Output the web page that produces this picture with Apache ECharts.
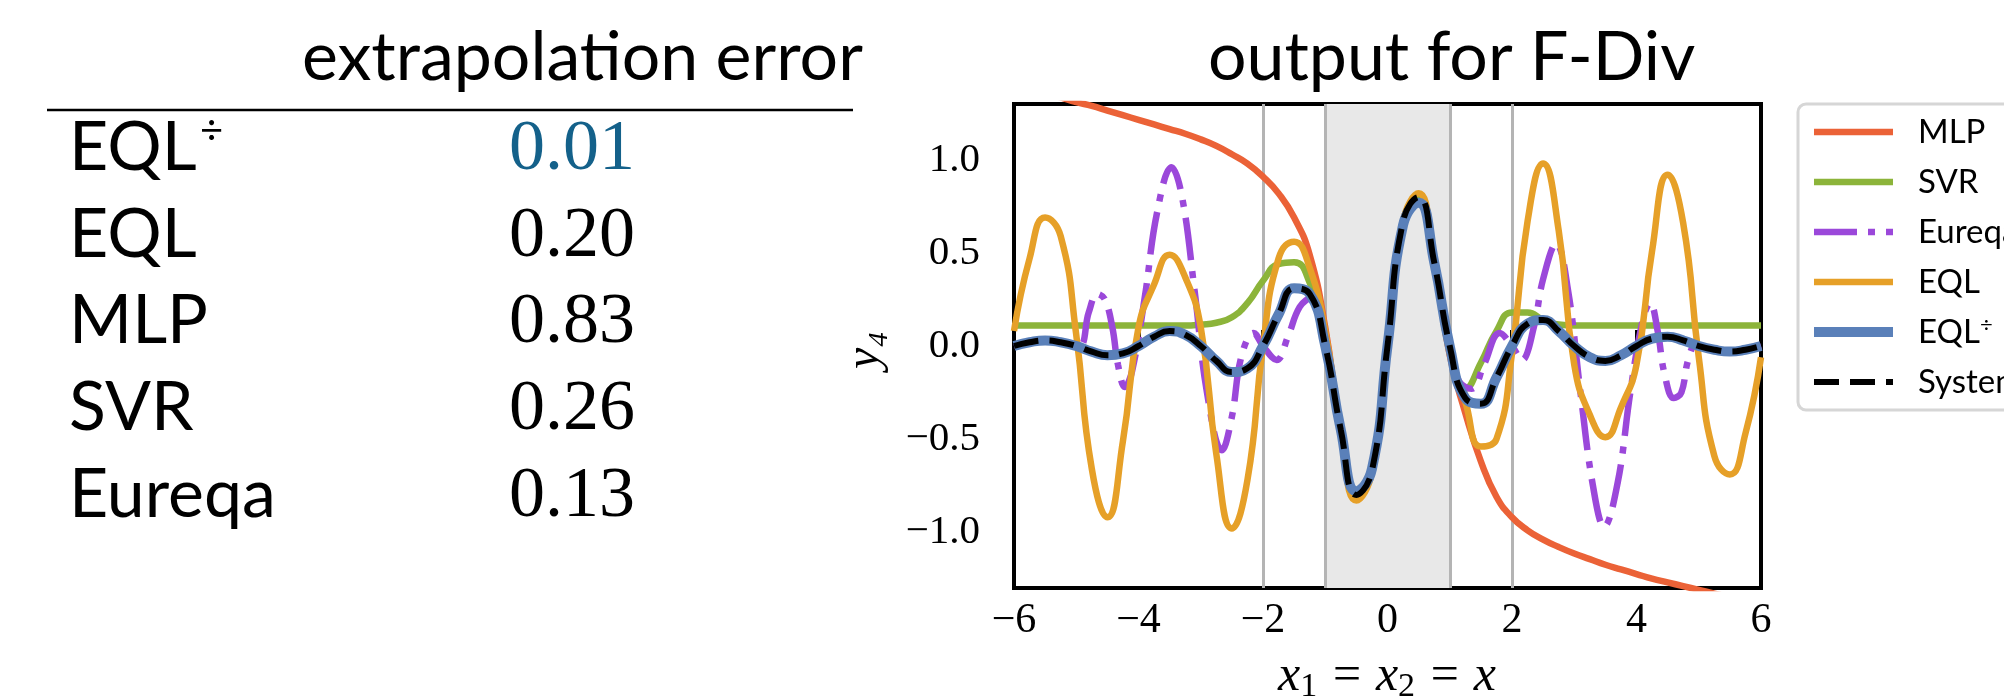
<!DOCTYPE html>
<html>
<head>
<meta charset="utf-8">
<title>output for F-Div</title>
<script src="https://cdn.jsdelivr.net/npm/echarts@6.0.0/dist/echarts.min.js"></script>
<style>
  html, body { margin: 0; padding: 0; background: #fff; }
  #main { width: 2004px; height: 696px; }
</style>
</head>
<body>
<div id="main"></div>
<script>
// left table
var tableMethods = ['EQL', 'EQL', 'MLP', 'SVR', 'Eureqa'];   // first row is EQL with the ÷ mark
var tableErrors = ['0.01', '0.20', '0.83', '0.26', '0.13'];

// curves at x step 0.25
var xs = [-6, -5.75, -5.5, -5.25, -5, -4.75, -4.5, -4.25, -4, -3.75, -3.5, -3.25,
  -3, -2.75, -2.5, -2.25, -2, -1.75, -1.5, -1.25, -1, -0.75, -0.5, -0.25,
  0, 0.25, 0.5, 0.75, 1, 1.25, 1.5, 1.75, 2, 2.25, 2.5, 2.75,
  3, 3.25, 3.5, 3.75, 4, 4.25, 4.5, 4.75, 5, 5.25, 5.5, 5.75, 6];

var mlpY = [1.40, 1.38, 1.36, 1.335, 1.31, 1.29, 1.265, 1.24, 1.215, 1.19, 1.165, 1.14,
  1.11, 1.075, 1.03, 0.98, 0.91, 0.82, 0.69, 0.49, 0.10, -0.45, -0.80, -0.67,
  0, 0.67, 0.80, 0.45, -0.05, -0.36, -0.62, -0.81, -0.92, -0.99, -1.04, -1.08,
  -1.115, -1.145, -1.175, -1.2, -1.225, -1.25, -1.27, -1.29, -1.31, -1.33, -1.35, -1.37, -1.39];

var svrY = [0.11, 0.11, 0.11, 0.11, 0.11, 0.11, 0.11, 0.11, 0.11, 0.11, 0.11, 0.11,
  0.115, 0.125, 0.155, 0.23, 0.35, 0.44, 0.45, 0.34, 0.06, -0.45, -0.80, -0.67,
  0, 0.67, 0.80, 0.45, -0.03, -0.23, -0.09, 0.08, 0.18, 0.18, 0.14, 0.115,
  0.11, 0.11, 0.11, 0.11, 0.11, 0.11, 0.11, 0.11, 0.11, 0.11, 0.11, 0.11, 0.11];

var eqlY = [0.08, 0.47, 0.69, 0.59, 0.06, -0.66, -0.92, -0.51, 0.10, 0.33, 0.49, 0.37,
  0.10, -0.58, -0.98, -0.72, 0.0, 0.47, 0.56, 0.42, 0.08, -0.46, -0.83, -0.68,
  0, 0.67, 0.82, 0.46, -0.04, -0.30, -0.54, -0.50, -0.04, 0.67, 0.98, 0.62,
  -0.10, -0.37, -0.49, -0.33, -0.10, 0.51, 0.92, 0.66, -0.06, -0.59, -0.69, -0.47, -0.06];

var eqlDivY = [0, 0.02, 0.03, 0.02, 0, -0.03, -0.05, -0.04, 0, 0.05, 0.08, 0.06,
  0, -0.08, -0.14, -0.12, 0, 0.17, 0.31, 0.28, 0, -0.45, -0.78, -0.66,
  0, 0.65, 0.77, 0.45, 0, -0.28, -0.31, -0.17, 0, 0.12, 0.14, 0.08,
  0, -0.06, -0.08, -0.05, 0, 0.04, 0.05, 0.03, 0, -0.02, -0.03, -0.02, 0];

var systemY = [0, 0.02, 0.03, 0.02, 0, -0.03, -0.05, -0.04, 0, 0.05, 0.08, 0.06,
  0, -0.08, -0.14, -0.12, 0, 0.17, 0.31, 0.28, 0, -0.45, -0.80, -0.67,
  0, 0.67, 0.80, 0.45, 0, -0.28, -0.31, -0.17, 0, 0.12, 0.14, 0.08,
  0, -0.06, -0.08, -0.05, 0, 0.04, 0.05, 0.03, 0, -0.02, -0.03, -0.02, 0];

// Eureqa has sharper wiggles, so it gets its own x positions
var eureqaX = [-6, -5.5, -5.25, -4.95, -4.8, -4.66, -4.54, -4.42, -4.33, -4.22, -4.1, -3.9,
  -3.7, -3.47, -3.3, -3.1, -2.9, -2.66, -2.5, -2.35, -2.15, -2.0, -1.78, -1.6,
  -1.41, -1.22, -1.0, -0.75, -0.5, -0.25, 0, 0.25, 0.5, 0.75, 1.0, 1.15,
  1.35, 1.55, 1.8, 2.0, 2.16, 2.35, 2.5, 2.71, 2.9, 3.1, 3.3, 3.48,
  3.7, 3.9, 4.1, 4.22, 4.34, 4.45, 4.6, 4.72, 4.83, 4.95, 5.25, 5.5, 6];
var eureqaY = [0, 0.03, 0.02, 0.0, 0.18, 0.28, 0.25, 0.1, -0.1, -0.22, -0.13, 0.26,
  0.72, 0.96, 0.8, 0.3, -0.25, -0.56, -0.38, -0.06, 0.07, 0.0, -0.075, 0.05,
  0.21, 0.26, 0.02, -0.45, -0.8, -0.67, 0, 0.67, 0.8, 0.45, -0.02, -0.19,
  -0.23, -0.1, 0.07, 0.0, -0.075, 0.1, 0.36, 0.55, 0.3, -0.25, -0.75, -0.97,
  -0.73, -0.25, 0.14, 0.23, 0.08, -0.15, -0.28, -0.25, -0.075, 0.0, -0.02, -0.03, 0];

var yTicks = [-1, -0.5, 0, 0.5, 1];
var shadeRange = [-1, 1];
var greyLines = [-2, -1, 1, 2];

function pairs(x, y) {
  return x.map(function (v, i) { return [v, y[i]]; });
}
function minus(s) { return s.replace('-', '\u2212'); }

var sans = 'Lato, "DejaVu Sans", sans-serif';
var serif = '"Liberation Serif", "DejaVu Serif", serif';

var chart = echarts.init(document.getElementById('main'), null, { renderer: 'canvas' });

var graphics = [
  { type: 'text', x: 302, y: 58, style: { text: 'extrapolation error', fontFamily: sans, fontSize: 68, fill: '#000', align: 'left', verticalAlign: 'middle' } },
  { type: 'text', x: 1208, y: 58, style: { text: 'output for F-Div', fontFamily: sans, fontSize: 68, fill: '#000', align: 'left', verticalAlign: 'middle' } },
  { type: 'line', shape: { x1: 47, y1: 110, x2: 853, y2: 110 }, style: { stroke: '#000', lineWidth: 2.5 } },
  { type: 'text', x: 200, y: 131, style: { text: '\u00f7', fontFamily: sans, fontSize: 40, fill: '#000', align: 'left', verticalAlign: 'middle' } },
  { type: 'text', x: 865, y: 350, rotation: Math.PI / 2,
    style: { text: 'y\u2084', fontFamily: serif, fontStyle: 'italic', fontSize: 48, fill: '#000', align: 'center', verticalAlign: 'middle' } },
  { type: 'text', x: 1387, y: 677,
    style: { text: '{i|x}{s|1}{i| = x}{s|2}{i| = x}', fill: '#000', align: 'center', verticalAlign: 'middle',
      rich: {
        i: { fontFamily: serif, fontStyle: 'italic', fontSize: 50, lineHeight: 54 },
        s: { fontFamily: serif, fontSize: 34, lineHeight: 32, verticalAlign: 'bottom' }
      } } }
];
tableMethods.forEach(function (m, i) {
  var base = 174 + i * 86.7;
  graphics.push({ type: 'text', x: 69, y: base - 26, style: { text: m, fontFamily: sans, fontSize: 68, fill: '#000', align: 'left', verticalAlign: 'middle' } });
  graphics.push({ type: 'text', x: 572, y: base - 24, style: { text: tableErrors[i], fontFamily: serif, fontSize: 72, fill: i === 0 ? '#14618a' : '#000', align: 'center', verticalAlign: 'middle' } });
});

var option = {
  animation: false,
  backgroundColor: '#fff',
  grid: {
    left: 1014, top: 104, right: 243, bottom: 108,
    show: true, borderColor: '#000', borderWidth: 4, backgroundColor: 'transparent',
    containLabel: false, outerBoundsMode: 'none'
  },
  xAxis: {
    type: 'value', min: -6, max: 6, interval: 2,
    axisLine: { show: false },
    axisTick: { inside: true, length: 16, lineStyle: { color: '#000', width: 4 } },
    axisLabel: { margin: 12, color: '#000', fontFamily: serif, fontSize: 42,
      formatter: function (v) { return minus(String(v)); } },
    splitLine: { show: false }
  },
  yAxis: {
    type: 'value', min: -1.3, max: 1.3,
    axisLine: { show: false },
    axisTick: { inside: true, length: 16, customValues: yTicks, lineStyle: { color: '#000', width: 4 } },
    axisLabel: { margin: 34, color: '#000', fontFamily: serif, fontSize: 41, customValues: yTicks,
      formatter: function (v) { return minus(v.toFixed(1)); } },
    splitLine: { show: false }
  },
  legend: {
    data: ['MLP', 'SVR', 'Eureqa', 'EQL', 'EQL\u00f7', 'System'],
    orient: 'vertical', left: 1798, top: 104,
    padding: [10, 60, 10, 11],
    itemWidth: 79, itemHeight: 2, itemGap: 14,
    backgroundColor: '#fff', borderColor: '#d6d6d6', borderWidth: 3, borderRadius: 8,
    itemStyle: { opacity: 0 },
    lineStyle: { width: 'inherit' },
    formatter: function (name) { return name === 'EQL\u00f7' ? 'EQL{sup|\u00f7}' : name; },
    textStyle: { fontFamily: sans, fontSize: 33, color: '#000', lineHeight: 36, padding: [0, 0, 0, 20],
      rich: { sup: { fontFamily: sans, fontSize: 22, lineHeight: 22, verticalAlign: 'top' } } }
  },
  series: [
    { name: 'MLP', type: 'line', data: pairs(xs, mlpY), smooth: 0.5, symbol: 'none',
      lineStyle: { color: '#eb6237', width: 6.5 }, itemStyle: { color: '#eb6237' },
      markArea: { silent: true, z: 1, itemStyle: { color: '#e8e8e8' },
        data: [[{ xAxis: shadeRange[0] }, { xAxis: shadeRange[1] }]] },
      markLine: { silent: true, z: 1, symbol: ['none', 'none'], label: { show: false },
        lineStyle: { color: '#b4b4b4', width: 3, type: 'solid' },
        data: greyLines.map(function (v) { return { xAxis: v }; }) } },
    { name: 'SVR', type: 'line', data: pairs(xs, svrY), smooth: 0.5, symbol: 'none',
      lineStyle: { color: '#8cb43a', width: 6.5 }, itemStyle: { color: '#8cb43a' } },
    { name: 'Eureqa', type: 'line', data: pairs(eureqaX, eureqaY), smooth: 0.4, symbol: 'none',
      lineStyle: { color: '#9b48da', width: 6.5, type: [43, 11, 7, 11] }, itemStyle: { color: '#9b48da' } },
    { name: 'EQL', type: 'line', data: pairs(xs, eqlY), smooth: 0.5, symbol: 'none',
      lineStyle: { color: '#e6a028', width: 6.5 }, itemStyle: { color: '#e6a028' } },
    { name: 'EQL\u00f7', type: 'line', data: pairs(xs, eqlDivY), smooth: 0.5, symbol: 'none',
      lineStyle: { color: '#5a80b9', width: 10 }, itemStyle: { color: '#5a80b9' } },
    { name: 'System', type: 'line', data: pairs(xs, systemY), smooth: 0.5, symbol: 'none',
      lineStyle: { color: '#000', width: 6, type: [25, 11] }, itemStyle: { color: '#000' } }
  ],
  graphic: { elements: graphics }
};
chart.setOption(option);
</script>
</body>
</html>
